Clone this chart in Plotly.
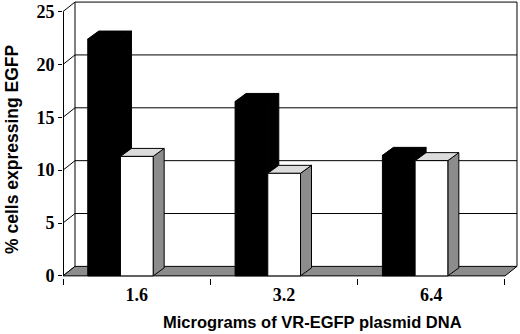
import plotly.graph_objects as go

# ---- data ----
categories = ["1.6", "3.2", "6.4"]
series_black = [22.4, 16.5, 11.4]
series_white = [11.3, 9.7, 10.9]
y_ticks = [0, 5, 10, 15, 20, 25]

# ---- pseudo-3D geometry (in axis units) ----
PX_X = 147.33   # px per x unit
PX_Y = 10.57    # px per y unit
DXW, DYW = 12 / PX_X, 9.5 / PX_Y   # wall depth
DXB, DYB = 11 / PX_X, 8 / PX_Y     # bar depth
BAR_W = 0.222
OFF_BLACK = -0.332
OFF_WHITE = -0.110
X0, X1 = -0.5, len(categories) - 0.5
YMAX = y_ticks[-1]

fig = go.Figure()


def poly(xs, ys, fill, lw=1):
    fig.add_trace(go.Scatter(
        x=list(xs) + [xs[0]], y=list(ys) + [ys[0]], mode="lines",
        fill="toself", fillcolor=fill, line=dict(color="black", width=lw),
        hoverinfo="skip", showlegend=False))


def seg(xs, ys, lw=1, color="black"):
    fig.add_trace(go.Scatter(
        x=xs, y=ys, mode="lines", line=dict(color=color, width=lw),
        hoverinfo="skip", showlegend=False))


# back wall gridlines + side diagonals
for v in y_ticks:
    if v > 0:
        seg([X0 + DXW, X1 + DXW], [v + DYW, v + DYW])
    seg([X0, X0 + DXW], [v, v + DYW])
# back wall edges
seg([X0 + DXW, X0 + DXW], [DYW, YMAX + DYW])
seg([X1 + DXW, X1 + DXW], [DYW, YMAX + DYW])
# front axis line
seg([X0, X0], [0, YMAX], lw=2)

# floor
poly([X0, X1, X1 + DXW, X0 + DXW], [0, 0, DYW, DYW], "#8c8c8c")


def bar3d(xl, v, front, top, side):
    xr = xl + BAR_W
    poly([xr, xr + DXB, xr + DXB, xr], [0, DYB, v + DYB, v], side)
    poly([xl, xr, xr + DXB, xl + DXB], [v, v, v + DYB, v + DYB], top)
    poly([xl, xr, xr, xl], [0, 0, v, v], front)


for i, (vb, vw) in enumerate(zip(series_black, series_white)):
    bar3d(i + OFF_BLACK, vb, "black", "black", "black")
    bar3d(i + OFF_WHITE, vw, "white", "#dcdcdc", "#8c8c8c")

serif = dict(family="Liberation Serif, Times New Roman, serif", size=18,
             color="black", weight="bold")
sans = dict(family="Liberation Sans, Arial, sans-serif", size=16.5,
            color="black", weight="bold")

fig.update_layout(
    width=520, height=334,
    margin=dict(l=63, r=0, t=1, b=56),
    paper_bgcolor="white", plot_bgcolor="white",
    xaxis=dict(range=[X0, X0 + 457 / PX_X], tickvals=list(range(len(categories))),
               ticktext=categories, ticks="", showgrid=False, zeroline=False,
               showline=False, tickfont=serif, ticklabelstandoff=4,
               minor=dict(tick0=0.5, dtick=1, ticks="outside", ticklen=6,
                          tickcolor="black", showgrid=False)),
    yaxis=dict(range=[-0.2, 26.0], tickvals=y_ticks, ticks="outside",
               ticklen=4, tickcolor="black", showgrid=False, zeroline=False,
               showline=False, tickfont=serif),
    annotations=[
        dict(text="% cells expressing EGFP", xref="paper", yref="paper",
             x=-0.1116, y=0.466, textangle=-90, showarrow=False,
             xanchor="center", yanchor="middle", font=dict(sans, size=17.5)),
        dict(text="Micrograms of VR-EGFP plasmid DNA", xref="paper", yref="paper",
             x=0.547, y=-0.158, showarrow=False, xanchor="center",
             yanchor="middle", font=sans),
    ],
)

fig.write_html("out.html", config={"displayModeBar": False},
               post_script="document.body.style.margin='0';")
